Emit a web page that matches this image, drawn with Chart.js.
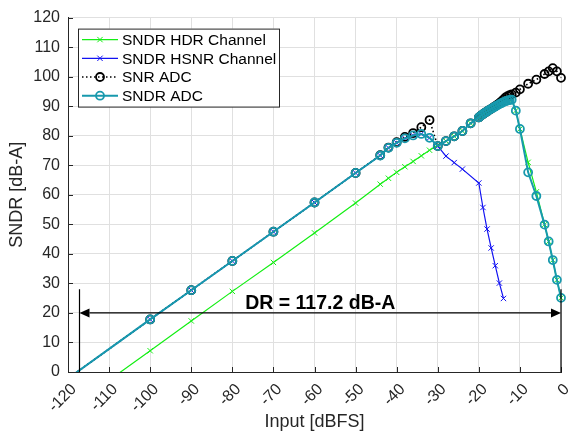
<!DOCTYPE html>
<html>
<head>
<meta charset="utf-8">
<script src="https://cdn.jsdelivr.net/npm/chart.js@4.4.1/dist/chart.umd.min.js"></script>
<style>
  html, body { margin: 0; padding: 0; background: #fff; }
  #wrap { width: 571px; height: 443px; }
</style>
</head>
<body>
<div id="wrap"><canvas id="chartCanvas" width="571" height="443"></canvas></div>
<script>
// input levels [dBFS]
const inputAdc = [-120, -100, -90, -80, -70, -60, -50,
    -44, -42, -40, -38, -36, -34, -32, -30, -28, -26, -24, -22, -20,
    -19.5, -19, -18.5, -18, -17.5, -17, -16.5, -16, -15.5, -15, -14.5, -14, -13.5, -13, -12.5, -12,
    -11, -10, -8, -6, -4, -3, -2, -1, 0];
const inputHdr = [-110, -100, -90, -80, -70, -60, -50,
    -44, -42, -40, -38, -36, -34, -32, -30, -28, -26, -24, -22, -20,
    -19.5, -19, -18.5, -18, -17.5, -17, -16.5, -16, -15.5, -15, -14.5, -14, -13.5, -13, -12.5, -12,
    -11, -10, -8, -6, -4, -3, -2, -1, 0];
const inputHsnr = [-120, -100, -90, -80, -70, -60, -50,
    -44, -42, -40, -38, -36, -34, -32, -30, -28, -26, -24,
    -20, -19, -18, -17, -16, -15, -14];

// measured values [dB-A]
const sndrHdr = [-2.8, 7.2, 17.3, 27.3, 37.1, 47.1, 57.2,
    63.6, 65.6, 67.6, 69.5, 71.3, 73.2, 75.1, 76.8, 78.2, 79.8, 81.6, 84.2, 86.2,
    86.8, 87.3, 87.8, 88.2, 88.7, 89.1, 89.5, 89.9, 90.3, 90.7, 91.0, 91.4, 91.7, 91.9, 92.1, 92.2,
    88.5, 82.3, 71.0, 61.0, 49.9, 44.2, 37.9, 31.2, 25.1];
const sndrHsnr = [-2.2, 17.8, 27.7, 37.6, 47.5, 57.4, 67.4,
    73.3, 75.9, 77.6, 79.1, 80.1, 80.6, 79.3, 76.5, 73.1, 70.9, 68.7,
    64.0, 55.7, 48.4, 42.0, 36.0, 30.1, 24.9];
const snrAdc = [-2.2, 17.8, 27.7, 37.6, 47.5, 57.4, 67.4,
    73.4, 76.0, 77.8, 79.6, 80.9, 82.9, 85.3, 76.5, 78.2, 79.8, 81.6, 84.2, 86.2,
    86.8, 87.3, 87.8, 88.2, 88.7, 89.1, 89.6, 90.0, 90.5, 91.0, 91.6, 92.3, 93.0, 93.4, 93.7, 94.0,
    94.6, 95.7, 97.6, 99.0, 100.9, 101.8, 102.9, 101.8, 99.6];
const sndrAdc = [-2.2, 17.8, 27.7, 37.6, 47.5, 57.4, 67.4,
    73.3, 75.9, 77.6, 79.1, 80.1, 80.6, 79.3, 76.5, 78.2, 79.8, 81.6, 84.2, 86.2,
    86.8, 87.3, 87.8, 88.2, 88.7, 89.1, 89.5, 89.9, 90.3, 90.7, 91.0, 91.4, 91.7, 91.9, 92.1, 92.2,
    88.5, 82.3, 67.6, 59.6, 49.9, 44.2, 37.9, 31.2, 25.1];

const seriesLabels = ['SNDR HDR Channel', 'SNDR HSNR Channel', 'SNR ADC', 'SNDR ADC'];

// dynamic range annotation
const drValue = 117.2;
const drLevel = 20;
const drBarTop = 28;

const FONT = '"Liberation Sans", Arial, Helvetica, sans-serif';
const TEXT = '#262626';
const GREEN = '#14ee14';
const BLUE = '#1212f2';
const TEAL = '#1799ad';

const toPoints = (xs, ys) => xs.map((x, i) => ({ x: x, y: ys[i] }));
const clipArea = { left: 0, top: 8, right: 8, bottom: 0 };

// MATLAB-style inward tick marks
const innerTicks = {
    id: 'innerTicks',
    afterDatasetsDraw(chart) {
        const { ctx, chartArea, scales: { x, y } } = chart;
        ctx.save();
        ctx.strokeStyle = TEXT;
        ctx.lineWidth = 1;
        ctx.beginPath();
        x.ticks.forEach(t => {
            const px = Math.round(x.getPixelForValue(t.value)) + 0.5;
            ctx.moveTo(px, chartArea.bottom);
            ctx.lineTo(px, chartArea.bottom - 5);
        });
        y.ticks.forEach(t => {
            const py = Math.round(y.getPixelForValue(t.value)) + 0.5;
            ctx.moveTo(chartArea.left, py);
            ctx.lineTo(chartArea.left + 5, py);
        });
        ctx.stroke();
        ctx.restore();
    }
};

// double arrow spanning the dynamic range
const drArrow = {
    id: 'drArrow',
    afterDatasetsDraw(chart) {
        const { ctx, scales: { x, y } } = chart;
        const xl = x.getPixelForValue(-drValue);
        const xr = x.getPixelForValue(0);
        const ya = y.getPixelForValue(drLevel);
        const yb = y.getPixelForValue(0);
        const yt = y.getPixelForValue(drBarTop);
        const head = 10, half = 4.5;
        ctx.save();
        ctx.strokeStyle = '#000';
        ctx.fillStyle = '#000';
        ctx.lineWidth = 1.2;
        ctx.beginPath();
        ctx.moveTo(xl, yb); ctx.lineTo(xl, yt);
        ctx.moveTo(xr, yb); ctx.lineTo(xr, yt);
        ctx.moveTo(xl + head, ya); ctx.lineTo(xr - head, ya);
        ctx.stroke();
        ctx.beginPath();
        ctx.moveTo(xl, ya); ctx.lineTo(xl + head, ya - half); ctx.lineTo(xl + head, ya + half);
        ctx.closePath();
        ctx.moveTo(xr, ya); ctx.lineTo(xr - head, ya - half); ctx.lineTo(xr - head, ya + half);
        ctx.closePath();
        ctx.fill();
        ctx.font = 'bold 19.5px ' + FONT;
        ctx.textAlign = 'center';
        ctx.textBaseline = 'alphabetic';
        ctx.fillText('DR = ' + drValue + ' dB-A', (xl + xr) / 2, ya - 4);
        ctx.restore();
    }
};

// boxed legend with line + marker samples
const boxLegend = {
    id: 'boxLegend',
    afterDraw(chart) {
        const { ctx, chartArea } = chart;
        const left = chartArea.left + 10, top = chartArea.top + 11;
        const width = 201, height = 78;
        ctx.save();
        ctx.fillStyle = '#fff';
        ctx.fillRect(left, top, width, height);
        ctx.strokeStyle = TEXT;
        ctx.lineWidth = 1;
        ctx.strokeRect(left + 0.5, top + 0.5, width, height);
        chart.data.datasets.forEach((ds, i) => {
            const cy = top + 11 + i * 18.7;
            ctx.strokeStyle = ds.borderColor;
            ctx.lineWidth = ds.borderWidth;
            ctx.setLineDash(ds.borderDash || []);
            ctx.beginPath();
            ctx.moveTo(left + 4, cy);
            ctx.lineTo(left + 40, cy);
            ctx.stroke();
            ctx.setLineDash([]);
            ctx.strokeStyle = ds.pointBorderColor;
            ctx.fillStyle = 'rgba(0,0,0,0)';
            ctx.lineWidth = ds.pointBorderWidth;
            Chart.helpers.drawPoint(ctx, {
                pointStyle: ds.pointStyle, radius: ds.pointRadius,
                rotation: 0, borderWidth: ds.pointBorderWidth
            }, left + 22, cy);
            ctx.fillStyle = '#000';
            ctx.font = '15.5px ' + FONT;
            ctx.textAlign = 'left';
            ctx.textBaseline = 'middle';
            ctx.fillText(ds.label, left + 44, cy + 1);
        });
        ctx.restore();
    }
};

const ctx = document.getElementById('chartCanvas').getContext('2d');
new Chart(ctx, {
    type: 'line',
    data: {
        datasets: [
            {
                label: seriesLabels[0], data: toPoints(inputHdr, sndrHdr),
                borderColor: GREEN, borderWidth: 1.2,
                pointStyle: 'crossRot', pointRadius: 3.8, pointBorderWidth: 1,
                pointBorderColor: GREEN, order: 4, clip: clipArea
            },
            {
                label: seriesLabels[1], data: toPoints(inputHsnr, sndrHsnr),
                borderColor: BLUE, borderWidth: 1.2,
                pointStyle: 'crossRot', pointRadius: 3.8, pointBorderWidth: 1,
                pointBorderColor: BLUE, order: 3, clip: clipArea
            },
            {
                label: seriesLabels[2], data: toPoints(inputAdc, snrAdc),
                borderColor: '#000', borderWidth: 1.6, borderDash: [1.5, 2.5],
                pointStyle: 'circle', pointRadius: 4, pointBorderWidth: 1.8,
                pointBorderColor: '#000', pointBackgroundColor: 'rgba(0,0,0,0)',
                order: 2, clip: clipArea
            },
            {
                label: seriesLabels[3], data: toPoints(inputAdc, sndrAdc),
                borderColor: TEAL, borderWidth: 2,
                pointStyle: 'circle', pointRadius: 4, pointBorderWidth: 1.8,
                pointBorderColor: TEAL, pointBackgroundColor: 'rgba(0,0,0,0)',
                order: 1, clip: clipArea
            }
        ]
    },
    options: {
        responsive: false,
        animation: false,
        layout: { padding: { top: 12, right: 10, left: 0, bottom: 0 } },
        elements: { line: { tension: 0, fill: false } },
        plugins: {
            legend: { display: false },
            tooltip: { enabled: false }
        },
        scales: {
            x: {
                type: 'linear', min: -120, max: 0,
                afterFit: s => { s.height = 71; s.paddingLeft = 0; s.paddingRight = 0; },
                grid: { color: '#e0e0e0', drawTicks: false },
                border: { color: TEXT, width: 1 },
                ticks: {
                    stepSize: 10, autoSkip: false, minRotation: 45, maxRotation: 45,
                    padding: 8, labelOffset: 6, color: TEXT, font: { family: FONT, size: 16 }
                },
                title: {
                    display: true, text: 'Input [dBFS]', color: TEXT,
                    font: { family: FONT, size: 18 }, padding: { top: 0, bottom: 10 }
                }
            },
            y: {
                min: 0, max: 120,
                afterFit: s => { s.width = 68; },
                grid: { color: '#e0e0e0', drawTicks: false },
                border: { color: TEXT, width: 1 },
                ticks: {
                    stepSize: 10, padding: 8, color: TEXT,
                    font: { family: FONT, size: 16 }
                },
                title: {
                    display: true, text: 'SNDR [dB-A]', color: TEXT,
                    font: { family: FONT, size: 18 }, padding: { top: 6, bottom: 0 }
                }
            }
        }
    },
    plugins: [innerTicks, drArrow, boxLegend]
});
</script>
</body>
</html>
